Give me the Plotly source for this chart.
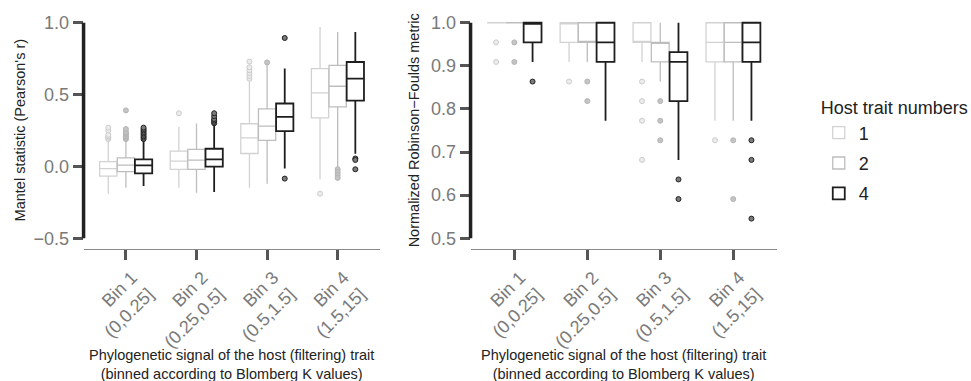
import plotly.graph_objects as go

# ---------------- data ----------------
bin_labels = ["Bin 1<br>(0,0.25]", "Bin 2<br>(0.25,0.5]", "Bin 3<br>(0.5,1.5]", "Bin 4<br>(1.5,15]"]
traits = ["1", "2", "4"]

# Left panel: Mantel statistic (Pearson's r); rows = trait 1, 2, 4 ; columns = bins 1..4
mantel_lower = [[-0.19, -0.148, -0.148, -0.09],
                [-0.148, -0.183, -0.12, -0.009],
                [-0.137, -0.178, -0.014, 0.088]]
mantel_q1 = [[-0.067, -0.021, 0.090, 0.338],
             [-0.037, -0.021, 0.181, 0.414],
             [-0.049, -0.002, 0.245, 0.458]]
mantel_median = [[-0.016, 0.037, 0.199, 0.512],
                 [0.009, 0.044, 0.280, 0.558],
                 [0.007, 0.049, 0.345, 0.611]]
mantel_q3 = [[0.033, 0.106, 0.297, 0.681],
             [0.060, 0.118, 0.401, 0.704],
             [0.049, 0.123, 0.438, 0.727]]
mantel_upper = [[0.18, 0.276, 0.592, 0.970],
                [0.18, 0.299, 0.708, 0.935],
                [0.18, 0.29, 0.681, 0.935]]
mantel_outliers = [
    [[0.19, 0.2, 0.21, 0.22, 0.25, 0.27], [0.37], [0.61, 0.63, 0.65, 0.67, 0.69, 0.73], [-0.19]],
    [[0.19, 0.2, 0.21, 0.22, 0.23, 0.24, 0.26, 0.39], [], [0.724], [-0.02, -0.04, -0.06, -0.08]],
    [[0.19, 0.2, 0.21, 0.22, 0.23, 0.24, 0.25, 0.26, 0.27], [0.3, 0.31, 0.32, 0.33, 0.35, 0.37],
     [-0.085, 0.894], [0.055, 0.045, -0.02]],
]

# Right panel: normalized Robinson-Foulds metric
rf_lower = [[1.0, 0.9091, 0.9091, 0.7727],
            [1.0, 0.9091, 0.8636, 0.7727],
            [0.9091, 0.7727, 0.6818, 0.7727]]
rf_q1 = [[1.0, 0.9545, 0.9545, 0.9091],
         [1.0, 0.9545, 0.9091, 0.9091],
         [0.9545, 0.9091, 0.8182, 0.9091]]
rf_median = [[1.0, 1.0, 0.9545, 0.9545],
             [1.0, 0.9545, 0.9545, 0.9545],
             [1.0, 0.9545, 0.9091, 0.9545]]
rf_q3 = [[1.0, 1.0, 1.0, 1.0],
         [1.0, 1.0, 0.9545, 1.0],
         [1.0, 1.0, 0.9318, 1.0]]
rf_upper = [[1.0, 1.0, 1.0, 1.0],
            [1.0, 1.0, 1.0, 1.0],
            [1.0, 1.0, 1.0, 1.0]]
rf_outliers = [
    [[0.9545, 0.9091], [0.8636], [0.8636, 0.8182, 0.7727, 0.6818], [0.7273]],
    [[0.9545, 0.9091], [0.8636, 0.8182], [0.8182, 0.7727, 0.7273], [0.7273, 0.5909]],
    [[0.8636], [], [0.6364, 0.5909], [0.7273, 0.6818, 0.5455]],
]

mantel_ticks = [-0.5, 0.0, 0.5, 1.0]
rf_ticks = [0.5, 0.6, 0.7, 0.8, 0.9, 1.0]

# ---------------- style ----------------
box_colors = ["#d2d2d2", "#bdbdbd", "#1e1e1e"]
box_widths = [1.3, 1.3, 1.8]
out_fill = ["#ececec", "#c4c4c4", "#7a7a7a"]
out_line = ["#cccccc", "#b4b4b4", "#222222"]
FONT = "Liberation Sans, Arial, Helvetica, sans-serif"
dodge = 0.25

fig = go.Figure()

panels = [
    ("x", "y", mantel_lower, mantel_q1, mantel_median, mantel_q3, mantel_upper, mantel_outliers),
    ("x2", "y2", rf_lower, rf_q1, rf_median, rf_q3, rf_upper, rf_outliers),
]
for pi, (xa, ya, lo, q1, med, q3, up, outs) in enumerate(panels):
    for k, t in enumerate(traits):
        xs = [i + (k - 1) * dodge for i in range(len(bin_labels))]
        fig.add_trace(go.Box(
            x=xs, q1=q1[k], median=med[k], q3=q3[k],
            lowerfence=lo[k], upperfence=up[k],
            width=dodge * 0.98, whiskerwidth=0,
            line=dict(color=box_colors[k], width=box_widths[k]),
            fillcolor="white", name=t, legendgroup=t,
            showlegend=(pi == 0), xaxis=xa, yaxis=ya, boxpoints=False,
        ))
        ox, oy = [], []
        for i, vals in enumerate(outs[k]):
            for v in vals:
                ox.append(xs[i])
                oy.append(v)
        fig.add_trace(go.Scatter(
            x=ox, y=oy, mode="markers", showlegend=False, legendgroup=t,
            marker=dict(size=5, color=out_fill[k], line=dict(color=out_line[k], width=1)),
            xaxis=xa, yaxis=ya,
        ))

W, H = 971, 381
top_px, bot_px = 12, 249

def xaxis_style(d0, d1, anchor):
    return dict(
        domain=[d0 / W, d1 / W], range=[-0.6, 3.6], anchor=anchor,
        tickmode="array", tickvals=list(range(len(bin_labels))), ticktext=bin_labels,
        tickangle=-45, ticks="outside", ticklen=10, tickwidth=3, tickcolor="#555555",
        tickfont=dict(size=18, color="#7a7a7a", family=FONT),
        ticklabelshift=6,
        showline=True, linecolor="#8a8a8a", linewidth=1,
        showgrid=False, zeroline=False, automargin=False,
    )

def yaxis_style(rng, ticks, anchor):
    return dict(
        range=rng, anchor=anchor, domain=[0, 1],
        tickmode="array", tickvals=ticks, ticktext=[f"{v:.1f}".replace("-", "\u2212") for v in ticks],
        ticks="outside", ticklen=10, tickwidth=3, tickcolor="#555555",
        tickfont=dict(size=18, color="#7a7a7a", family=FONT),
        showline=False, showgrid=False, zeroline=False, automargin=False,
    )

fig.update_layout(
    width=W, height=H,
    margin=dict(l=0, r=0, t=top_px, b=H - bot_px),
    paper_bgcolor="white", plot_bgcolor="white",
    boxmode="overlay",
    font=dict(family=FONT, color="#222222"),
    xaxis=xaxis_style(84, 382, "y"),
    yaxis=yaxis_style([-0.575, 1.075], mantel_ticks, "x"),
    xaxis2=xaxis_style(473, 781, "y2"),
    yaxis2=yaxis_style([0.475, 1.025], rf_ticks, "x2"),
    legend=dict(
        x=823 / W, y=(bot_px - 91) / (bot_px - top_px), xanchor="left", yanchor="top",
        title=dict(text="Host trait numbers", font=dict(size=18, color="#222222", family=FONT)),
        font=dict(size=18, color="#222222", family=FONT),
        bgcolor="rgba(0,0,0,0)", tracegroupgap=4,
    ),
)

# capped y-axis lines spanning the tick range
for ya, xd, ticks in [("y", "x domain", mantel_ticks), ("y2", "x2 domain", rf_ticks)]:
    fig.add_shape(type="line", xref=xd, yref=ya, x0=0, x1=0, y0=min(ticks), y1=max(ticks),
                  line=dict(color="#222222", width=3.5))

def py(px):
    return (bot_px - px) / (bot_px - top_px)

# axis titles
fig.add_annotation(text="Mantel statistic (Pearson's r)", xref="paper", yref="paper",
                   x=20 / W, y=0.5, xanchor="center", yanchor="middle", textangle=-90, showarrow=False,
                   font=dict(size=14.5, color="#222222", family=FONT))
fig.add_annotation(text="Normalized Robinson\u2212Foulds metric", xref="paper", yref="paper",
                   x=416 / W, y=0.5, xanchor="center", yanchor="middle", textangle=-90, showarrow=False,
                   font=dict(size=14.5, color="#222222", family=FONT))
xt = "Phylogenetic signal of the host (filtering) trait<br>(binned according to Blomberg K values)"
for cx in [233, 627]:
    fig.add_annotation(text=xt, xref="paper", yref="paper", x=cx / W, y=py(364.5),
                       xanchor="center", yanchor="middle", showarrow=False,
                       font=dict(size=14.5, color="#222222", family=FONT))

fig.write_html("out.html")
